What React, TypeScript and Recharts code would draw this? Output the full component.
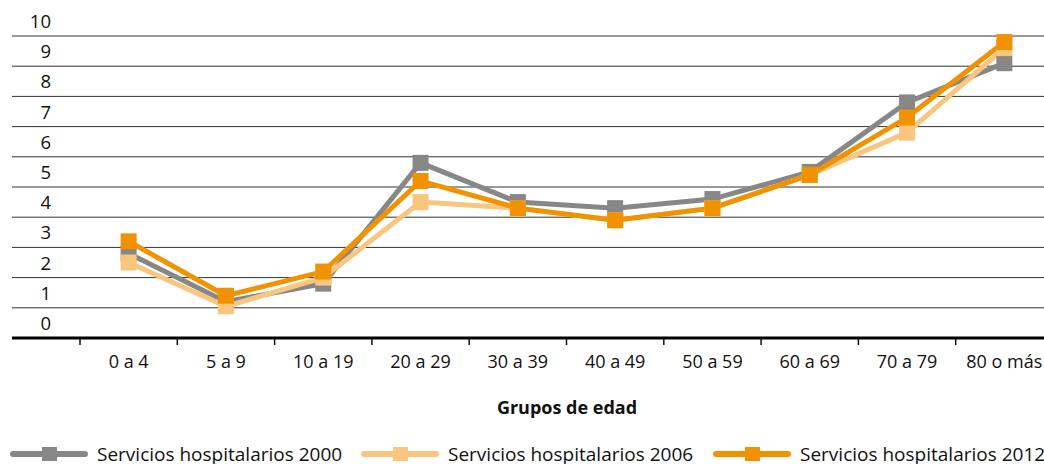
import React, { useLayoutEffect } from "react";
import { LineChart, Line, XAxis, YAxis, CartesianGrid, Customized } from "recharts";

const ageGroups = ["0 a 4", "5 a 9", "10 a 19", "20 a 29", "30 a 39", "40 a 49", "50 a 59", "60 a 69", "70 a 79", "80 o más"];
const hosp2000 = [2.8, 1.2, 1.8, 5.8, 4.5, 4.3, 4.6, 5.5, 7.8, 9.1];
const hosp2006 = [2.5, 1.05, 2.0, 4.5, 4.3, 3.9, 4.3, 5.4, 6.8, 9.6];
const hosp2012 = [3.2, 1.4, 2.2, 5.2, 4.3, 3.9, 4.3, 5.4, 7.3, 9.8];
const yTicks = [0, 1, 2, 3, 4, 5, 6, 7, 8, 9, 10];

const series = [
  { key: "s2000", name: "Servicios hospitalarios 2000", color: "#878787", values: hosp2000 },
  { key: "s2006", name: "Servicios hospitalarios 2006", color: "#F8C67F", values: hosp2006 },
  { key: "s2012", name: "Servicios hospitalarios 2012", color: "#F39200", values: hosp2012 },
];

const data = ageGroups.map((g, i) => ({
  group: g,
  s2000: hosp2000[i],
  s2006: hosp2006[i],
  s2012: hosp2012[i],
}));

// layout
const W = 1060;
const H = 464;
const LEFT = 12;
const TOP = 36;
const AXIS_Y = 338;
const PAD_LEFT = 68;
const RIGHT_EDGE = 1053;
const BAND = (RIGHT_EDGE - LEFT - PAD_LEFT) / ageGroups.length;
const FONT = "'Open Sans', Lato, sans-serif";

const SquareDot = (props: any) => {
  const { cx, cy, stroke } = props;
  if (cx == null || cy == null) return null;
  return <rect x={cx - 8} y={cy - 8} width={16} height={16} fill={stroke} />;
};

const XTick = (props: any) => {
  const { x, payload } = props;
  const bx = x - BAND / 2;
  return (
    <g>
      <line x1={bx} x2={bx} y1={AXIS_Y} y2={AXIS_Y + 7} stroke="#111" strokeWidth={1.5} />
      <text x={x} y={AXIS_Y + 30} textAnchor="middle" fontSize={18} fill="#111" fontFamily={FONT}>
        {payload.value}
      </text>
    </g>
  );
};

const YTick = (props: any) => {
  const { y, payload } = props;
  return (
    <text x={51} y={y - 8} textAnchor="end" fontSize={18.5} fill="#111" fontFamily={FONT}>
      {payload.value}
    </text>
  );
};

const AxisTitle = () => (
  <text x={567} y={414} textAnchor="middle" fontSize={18} fontWeight="bold" fill="#111" fontFamily={FONT}>
    Grupos de edad
  </text>
);

const legendX = [10, 361, 713];

const LegendBox = () => (
  <svg width={W} height={24} style={{ display: "block", position: "absolute", left: 0, top: 440 }}>
    {series.map((s, i) => {
      const x0 = legendX[i];
      return (
        <g key={s.key}>
          <line x1={x0 + 3} x2={x0 + 75} y1={14} y2={14} stroke={s.color} strokeWidth={6} strokeLinecap="round" />
          <rect x={x0 + 32} y={7} width={15} height={14} fill={s.color} />
          <text x={x0 + 87} y={21} fontSize={19} fill="#111" fontFamily={FONT}>
            {s.name}
          </text>
        </g>
      );
    })}
  </svg>
);

export default function App() {
  useLayoutEffect(() => {
    document.body.style.margin = "0";
    document.body.style.overflow = "hidden";
  }, []);
  return (
    <div style={{ width: 1044, height: 464, overflow: "hidden", position: "relative", background: "#fff" }}>
      <LineChart width={W} height={H} data={data} margin={{ top: TOP, right: W - RIGHT_EDGE, bottom: 0, left: LEFT }}>
        <CartesianGrid vertical={false} stroke="#333" strokeWidth={1} />
        <XAxis
          dataKey="group"
          scale="band"
          height={H - AXIS_Y}
          padding={{ left: PAD_LEFT, right: 0 }}
          axisLine={{ stroke: "#000", strokeWidth: 3 }}
          tickLine={false}
          tick={<XTick />}
          interval={0}
        />
        <YAxis
          mirror
          domain={[0, 10]}
          ticks={yTicks}
          axisLine={false}
          tickLine={false}
          tick={<YTick />}
          interval={0}
        />
        {series.map((s) => (
          <Line
            key={s.key}
            dataKey={s.key}
            name={s.name}
            stroke={s.color}
            strokeWidth={5}
            dot={<SquareDot />}
            activeDot={false}
            isAnimationActive={false}
          />
        ))}
        <Customized component={AxisTitle} />
      </LineChart>
      <LegendBox />
    </div>
  );
}
